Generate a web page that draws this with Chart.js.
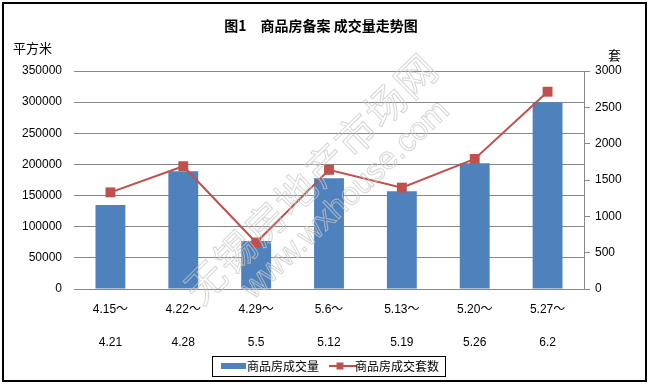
<!DOCTYPE html>
<html>
<head>
<meta charset="utf-8">
<script src="https://cdn.jsdelivr.net/npm/chart.js@4/dist/chart.umd.min.js"></script>
<style>
  html, body { margin: 0; padding: 0; background: #ffffff; }
  #wrap { width: 649px; height: 384px; position: relative; }
</style>
</head>
<body>
<div id="wrap"><canvas id="c" width="649" height="384"></canvas></div>
<script>
// ---- data ----
const weekStarts = ['4.15～', '4.22～', '4.29～', '5.6～', '5.13～', '5.20～', '5.27～'];
const weekEnds   = ['4.21', '4.28', '5.5', '5.12', '5.19', '5.26', '6.2'];
const areaValues = [135000, 189000, 77000, 178000, 157000, 202000, 300000]; // 平方米
const unitValues = [1330, 1690, 640, 1640, 1395, 1790, 2715];               // 套
const seriesNames = ['商品房成交量', '商品房成交套数'];
const chartTitle = '图1　商品房备案 成交量走势图';
const leftAxisTitle = '平方米';
const rightAxisTitle = '套';
const watermarkCn = '无锡房地产市场网';
const watermarkUrl = 'www.wxhouse.com';

const BLUE = '#4F81BD';
const RED = '#C0504D';
const GRID = '#878787';
const LATIN = '"Liberation Sans", Arial, "Noto Sans CJK SC", sans-serif';
const CJK = '"Noto Sans CJK SC", "Liberation Sans", sans-serif';

const labels = weekStarts.map((s, i) => [s, weekEnds[i]]);
const plainNumber = (v) => String(v);

// legend symbols
function barSymbol() {
  const c = document.createElement('canvas');
  c.width = 30; c.height = 8;
  const g = c.getContext('2d');
  g.fillStyle = BLUE;
  g.fillRect(5, 1, 25, 6);
  return c;
}
function lineSymbol() {
  const c = document.createElement('canvas');
  c.width = 36; c.height = 10;
  const g = c.getContext('2d');
  g.strokeStyle = RED; g.lineWidth = 2;
  g.beginPath(); g.moveTo(8, 5); g.lineTo(36, 5); g.stroke();
  g.fillStyle = RED;
  g.fillRect(15.5, 1.5, 7, 7);
  return c;
}
const symbols = [barSymbol(), lineSymbol()];

const decorPlugin = {
  id: 'decor',
  afterLayout(chart) {
    // shift the centred title slightly left, as in the reference
    if (chart.titleBlock) chart.titleBlock.left -= 18;
  },
  afterDraw(chart) {
    const ctx = chart.ctx;
    ctx.save();
    // axis unit titles
    ctx.fillStyle = '#000';
    ctx.font = '13px ' + CJK;
    ctx.textBaseline = 'middle';
    ctx.textAlign = 'left';
    ctx.fillText(leftAxisTitle, 13, 48);
    ctx.fillText(rightAxisTitle, 608, 55);
    // legend border
    const hb = chart.legend.legendHitBoxes;
    if (hb && hb.length) {
      const first = hb[0], last = hb[hb.length - 1];
      const l = first.left - 9, r = last.left + last.width + 6;
      const t = first.top - 4, b = first.top + 16;
      ctx.strokeStyle = '#000'; ctx.lineWidth = 1;
      ctx.strokeRect(Math.round(l) + 0.5, Math.round(t) + 0.5, Math.round(r - l), Math.round(b - t));
    }
    // watermark (outlined text)
    ctx.strokeStyle = 'rgba(200,200,200,0.75)';
    ctx.lineWidth = 1;
    ctx.textAlign = 'center';
    ctx.save();
    ctx.translate(311, 178);
    ctx.rotate(-44.4 * Math.PI / 180);
    ctx.font = '40px ' + CJK;
    if ('letterSpacing' in ctx) ctx.letterSpacing = '2px';
    ctx.strokeText(watermarkCn, 0, 0);
    ctx.restore();
    ctx.save();
    ctx.translate(346, 200);
    ctx.rotate(-43.5 * Math.PI / 180);
    ctx.font = '32px ' + LATIN;
    ctx.strokeText(watermarkUrl, 0, 0);
    ctx.restore();
    // outer frame
    ctx.strokeStyle = '#000'; ctx.lineWidth = 2;
    ctx.strokeRect(3, 3, 643, 378);
    ctx.restore();
  }
};

new Chart(document.getElementById('c'), {
  data: {
    labels: labels,
    datasets: [
      {
        type: 'bar',
        label: seriesNames[0],
        data: areaValues,
        yAxisID: 'y',
        backgroundColor: BLUE,
        borderWidth: 0,
        barPercentage: 0.41,
        categoryPercentage: 1,
        order: 2
      },
      {
        type: 'line',
        label: seriesNames[1],
        data: unitValues,
        yAxisID: 'y1',
        borderColor: RED,
        backgroundColor: RED,
        borderWidth: 2,
        pointStyle: 'rect',
        pointRadius: 7,
        pointBorderWidth: 0,
        pointBackgroundColor: RED,
        tension: 0,
        order: 1
      }
    ]
  },
  options: {
    responsive: false,
    animation: false,
    devicePixelRatio: 1,
    layout: { padding: { top: 0, left: 11, right: 0, bottom: 2 } },
    plugins: {
      title: {
        display: true,
        text: chartTitle,
        color: '#000',
        font: { family: CJK, size: 14, weight: 'bold', lineHeight: 1.2 },
        padding: { top: 17.6, bottom: 36.6 }
      },
      legend: {
        display: true,
        position: 'bottom',
        labels: {
          color: '#000',
          font: { family: CJK, size: 12 },
          usePointStyle: true,
          pointStyleWidth: 20,
          padding: 10,
          generateLabels(chart) {
            return chart.data.datasets.map((ds, i) => ({
              text: ds.label,
              datasetIndex: i,
              pointStyle: symbols[i],
              fillStyle: i === 0 ? BLUE : RED,
              strokeStyle: i === 0 ? BLUE : RED,
              lineWidth: 0,
              hidden: false,
              fontColor: '#000'
            }));
          }
        }
      },
      tooltip: { enabled: false }
    },
    scales: {
      x: {
        grid: { display: false, drawTicks: false },
        border: { display: true, color: GRID, width: 1 },
        ticks: {
          color: '#000',
          font: { family: LATIN, size: 12, lineHeight: 2.725 },
          padding: 4.6,
          maxRotation: 0,
          autoSkip: false
        },
        afterFit(s) { s.height = 61; }
      },
      y: {
        position: 'left',
        min: 0, max: 350000,
        grid: { color: GRID, lineWidth: 1, drawTicks: false },
        border: { display: false },
        ticks: {
          stepSize: 50000,
          color: '#000',
          font: { family: LATIN, size: 12 },
          padding: 12,
          callback: plainNumber
        },
        afterFit(s) { s.width = 63; }
      },
      y1: {
        position: 'right',
        min: 0, max: 3000,
        grid: { drawOnChartArea: false, drawTicks: true, tickLength: 6, color: GRID, lineWidth: 1 },
        border: { display: true, color: GRID, width: 1 },
        ticks: {
          stepSize: 500,
          color: '#000',
          font: { family: LATIN, size: 12 },
          padding: 5,
          callback: plainNumber
        },
        afterFit(s) { s.width = 65; }
      }
    }
  },
  plugins: [decorPlugin]
});
</script>
</body>
</html>
